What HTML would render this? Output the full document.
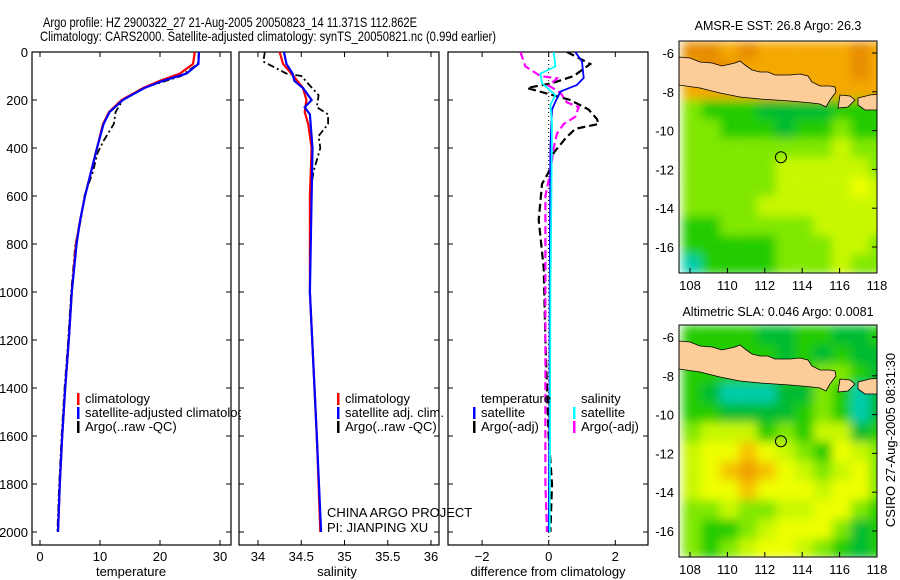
<!DOCTYPE html>
<html><head><meta charset="utf-8"><style>
body{margin:0;background:#fff}
svg{display:block;font-family:"Liberation Sans",sans-serif}
</style></head><body>
<svg id="fig" width="900" height="580" viewBox="0 0 900 580" xmlns="http://www.w3.org/2000/svg">
<rect width="900" height="580" fill="#fff"/>
<text x="43" y="27" font-size="14" textLength="374" lengthAdjust="spacingAndGlyphs">Argo profile: HZ 2900322_27 21-Aug-2005 20050823_14 11.371S 112.862E</text>
<text x="40" y="41" font-size="14" textLength="456" lengthAdjust="spacingAndGlyphs">Climatology: CARS2000. Satellite-adjusted climatology: synTS_20050821.nc (0.99d earlier)</text>
<g id="plots"></g>
<g id="maps"></g>
<text transform="translate(895,440) rotate(-90)" font-size="13" text-anchor="middle">CSIRO 27-Aug-2005 08:31:30</text>
</svg>
<script>
// ---- data ----
const depthTicks=[0,200,400,600,800,1000,1200,1400,1600,1800,2000];
const tempTicks=[0,10,20,30];
const salTicks=[34,34.5,35,35.5,36];
const salTickLabels=["34","34.5","35","35.5","36"];
const diffTicks=[-2,0,2];

const tClimDepth=[0,50,90,120,150,200,250,300,400,500,600,700,800,1000,1200,1400,1600,1800,2000];
const tClim=[25.8,25.5,23.3,20,17.2,13.6,11.5,10.5,9.5,8.5,7.5,6.7,6,5.3,4.8,4.2,3.7,3.3,3.0];
const tSat=[26.5,26.4,24.4,20.5,17.4,13.8,11.6,10.6,9.5,8.5,7.5,6.7,6.1,5.3,4.8,4.2,3.7,3.3,3.0];
const tArgoDepth=[0,50,100,150,200,250,300,370,420,500,600,700,800,1000,1200,1400,1600,1800,2000];
const tArgo=[26.5,26.3,23.5,17.2,13.8,12.6,12.3,10.6,9.6,8.8,7.4,6.8,5.9,5.2,4.7,4.1,3.6,3.2,2.9];

const sClimDepth=[0,50,100,150,200,250,300,400,600,1000,1600,2000];
const sClim=[34.25,34.29,34.41,34.52,34.56,34.54,34.58,34.62,34.6,34.6,34.68,34.72];
const sSatDepth=[0,50,90,120,150,200,230,260,400,1000,1600,2000];
const sSat=[34.3,34.33,34.4,34.42,34.52,34.62,34.54,34.6,34.63,34.6,34.68,34.73];
const sArgoDepth=[0,40,60,90,100,140,180,230,260,300,350,400,500,600,1000,1600,2000];
const sArgo=[34.08,34.06,34.17,34.33,34.5,34.6,34.7,34.68,34.81,34.81,34.7,34.72,34.64,34.6,34.6,34.68,34.73];

const dTSatDepth=[0,40,108,137,165,207,240,400,1000,1600,2000];
const dTSat=[0.8,1.0,1.05,0.85,0.35,0.2,0.1,0.05,0.03,0.02,0.0];
const dTArgoDepth=[0,50,100,130,150,200,240,280,300,320,360,420,500,550,700,900,1200,1400,1600,1800,2000];
const dTArgo=[0.55,1.25,0.75,0.1,-0.65,0.65,1.2,1.45,1.5,0.8,0.5,0.15,0,-0.2,-0.3,-0.15,-0.1,-0.05,0,0.1,0.05];
const dSSatDepth=[0,60,90,130,180,220,300,600,1000,2000];
const dSSat=[0.15,0.2,-0.25,-0.2,0.2,0.05,0.1,0.08,0.05,0.03];
const dSArgoDepth=[0,60,100,110,140,170,210,230,270,300,340,400,500,600,1000,1800,2000];
const dSArgo=[-0.85,-0.7,-0.25,0.25,0,0.35,0.55,0.9,0.8,0.45,0.25,0.15,0.05,-0.1,-0.1,-0.1,-0.05];

const lonTicks=[108,110,112,114,116,118];
const latTicks=[-6,-8,-10,-12,-14,-16];
const sstGrid=["OOoOoooooOo","oOOooooooOo","ooooooooooo","lgggGGGGggg","llgggGgglgg","llllllllyll","lllllyyyyyl","lllllyyyyYy","llllyyyyyyy","gglllllyyyy","ggggglllyyl","cgggglllyll"];
const slaGrid=["ggggGGggGGg","gggggGgGgGG","gggggggllgG","gGcccGGlgcG","ggGGGGglgcG","lyyyglgyyGg","yYYrYylgYyl","yYrRrYylyYl","yYYrYYYyYYl","llyllyyYYlg","lgglyYYYlGg","lglyYYylgGg"];
const argoLon=112.862, argoLat=-11.371;

// ---- helpers ----
const NS="http://www.w3.org/2000/svg";
function mk(tag,attrs,parent){const e=document.createElementNS(NS,tag);for(const k in attrs)e.setAttribute(k,attrs[k]);parent.appendChild(e);return e;}
const plots=document.getElementById('plots');
const yD=d=>52+d*0.24;
const top_=52,bot=545;
const panels=[
 {x0:32,x1:231,sx:v=>40+v*6,name:'temperature-panel'},
 {x0:239,x1:439,sx:v=>258+(v-34)*86.5,name:'salinity-panel'},
 {x0:448,x1:648,sx:v=>548.7+v*33.3,name:'difference-panel'}];

function line(p,depths,vals,color,dash,name,w){
  const g=panels[p];
  const pts=depths.map((d,i)=>g.sx(vals[i]).toFixed(1)+','+yD(d).toFixed(1)).join(' ');
  const e=mk('polyline',{points:pts,fill:'none',stroke:color,'stroke-width':w||2.2,'clip-path':'url(#clip'+p+')'},plots);
  if(dash)e.setAttribute('stroke-dasharray',dash);
  
  
}
const defs=mk('defs',{},plots);
const blurF=mk('filter',{id:'blur',x:'-5%',y:'-5%',width:'110%',height:'110%'},defs);
mk('feGaussianBlur',{stdDeviation:5,edgeMode:'duplicate'},blurF);
const lc=mk('clipPath',{id:'legclip'},defs);
mk('rect',{x:32,y:380,width:209,height:60},lc);
panels.forEach((g,i)=>{
  const cp=mk('clipPath',{id:'clip'+i},defs);
  mk('rect',{x:g.x0,y:top_,width:g.x1-g.x0,height:bot-top_},cp);
  const r=mk('rect',{x:g.x0,y:top_,width:g.x1-g.x0,height:bot-top_,fill:'none',stroke:'#000','stroke-width':1.2},plots);
  
  
  depthTicks.forEach(d=>{
    mk('line',{x1:g.x0,x2:g.x0+5,y1:yD(d),y2:yD(d),stroke:'#000'},plots);
    mk('line',{x1:g.x1,x2:g.x1-5,y1:yD(d),y2:yD(d),stroke:'#000'},plots);
  });
});
depthTicks.forEach(d=>{
  const t=mk('text',{x:28,y:yD(d)+5,'font-size':13,'text-anchor':'end'},plots);t.textContent=d;
  
  
});
function xticks(p,ticks,labels){
  const g=panels[p];
  ticks.forEach((v,i)=>{
    const x=g.sx(v);
    mk('line',{x1:x,x2:x,y1:top_,y2:top_+5,stroke:'#000'},plots);
    mk('line',{x1:x,x2:x,y1:bot,y2:bot-5,stroke:'#000'},plots);
    const t=mk('text',{x:x,y:561,'font-size':13,'text-anchor':'middle'},plots);
    t.textContent=labels?labels[i]:(v<0?'\u2212'+(-v):v);
    
    
  });
}
xticks(0,tempTicks);xticks(1,salTicks,salTickLabels);xticks(2,diffTicks);
[['temperature',131],['salinity',337],['difference from climatology',548]].forEach(([s,x])=>{
  const t=mk('text',{x:x,y:576,'font-size':13,'text-anchor':'middle'},plots);t.textContent=s;
  
  
});
const z=mk('line',{x1:548.7,x2:548.7,y1:top_,y2:bot,stroke:'#000','stroke-dasharray':'1,3'},plots);



line(0,tArgoDepth,tArgo,'#000','7,3,2,3','temp-argo-line',1.8);
line(0,tClimDepth,tClim,'#f00',null,'temp-climatology-line');
line(0,tClimDepth,tSat,'#00f',null,'temp-satellite-line');
line(1,sArgoDepth,sArgo,'#000','7,3,2,3','sal-argo-line',1.8);
line(1,sClimDepth,sClim,'#f00',null,'sal-climatology-line');
line(1,sSatDepth,sSat,'#00f',null,'sal-satellite-line');
line(2,dTArgoDepth,dTArgo,'#000','8,4','dtemp-argo-line',2.2);
line(2,dSArgoDepth,dSArgo,'#f0f','8,4','dsal-argo-line',2.2);
line(2,dTSatDepth,dTSat,'#00f',null,'dtemp-satellite-line',1.8);
line(2,dSSatDepth,dSSat,'#0ff',null,'dsal-satellite-line',1.8);

function legend(x,y,color,label,name,clip){
  mk('rect',{x:x,y:y-10,width:2.5,height:12,fill:color},plots);
  const t=mk('text',{x:x+8,y:y,'font-size':13},plots);t.textContent=label;
  if(clip)t.setAttribute('clip-path','url(#legclip)');
  
  
}
legend(77,403,'#f00','climatology','legend-climatology',1);
legend(77,417,'#00f','satellite-adjusted climatology','legend-satellite',1);
legend(77,431,'#000','Argo(..raw -QC)','legend-argo',1);
legend(337,403,'#f00','climatology','legend-sal-climatology');
legend(337,417,'#00f','satellite adj. clim.','legend-sal-satellite');
legend(337,431,'#000','Argo(..raw -QC)','legend-sal-argo');
let tt=mk('text',{x:481,y:403,'font-size':13},plots);tt.textContent='temperature';


tt=mk('text',{x:581,y:403,'font-size':13},plots);tt.textContent='salinity';


legend(473,417,'#00f','satellite','legend-dtemp-satellite');
legend(473,431,'#000','Argo(-adj)','legend-dtemp-argo');
legend(573,417,'#0ff','satellite','legend-dsal-satellite');
legend(573,431,'#f0f','Argo(-adj)','legend-dsal-argo');
tt=mk('text',{x:327,y:517,'font-size':13},plots);tt.textContent='CHINA ARGO PROJECT';


tt=mk('text',{x:327,y:532,'font-size':13},plots);tt.textContent='PI: JIANPING XU';



// ---- maps ----
const maps=document.getElementById('maps');
const pal={O:'#e88c00',o:'#f4a800',R:'#f0a000',r:'#f6c400',Y:'#eeff00',y:'#c8f800',l:'#80e800',g:'#22cc00',G:'#00bb33',c:'#00ccaa'};
const mx=lon=>690+(lon-108)*18.7;
function buildMap(y0,top,bottom,grid,title,name,titleY){
  const g=mk('g',{},maps);
  
  
  const my=lat=>y0+(-6-lat)*19.4;
  const cp=mk('clipPath',{id:'c'+name},defs);
  mk('rect',{x:679,y:top,width:198,height:bottom-top},cp);
  const inner=mk('g',{'clip-path':'url(#c'+name+')'},g);
  const field=mk('g',{filter:'url(#blur)'},inner);
  grid.forEach((row,r)=>{[...row].forEach((ch,c)=>{
    const lonA=107.6+c, latA=-5.4-r;
    mk('rect',{x:mx(lonA),y:my(latA),width:18.9,height:19.6,fill:pal[ch]},field);
  });});
  const off=y0-53;
  const java=[[679,57],[690,58],[700,62],[712,63],[722,66],[735,63],[740,61],[745,65],[752,70],[760,72],[768,72],[775,75],[790,75],[800,74],[808,76],[812,82],[820,86],[830,86],[835,87],[836,92],[830,100],[826,107],[820,104],[812,103],[790,101],[760,99],[740,97],[720,93],[700,88],[679,85]];
  const bali=[[840,95],[850,96],[855,100],[848,107],[838,108]];
  const sumb=[[858,98],[870,95],[880,94],[880,110],[865,110],[858,105]];
  [java,bali,sumb].forEach(poly=>{
    mk('polygon',{points:poly.map(p=>p[0]+','+(p[1]+off)).join(' '),fill:'#fccc99',stroke:'#000','stroke-width':0.8},inner);
  });
  const ex=mk('circle',{cx:mx(argoLon),cy:my(argoLat),r:5.5,fill:'none',stroke:'#000','stroke-width':1},g);
  
  
  mk('rect',{x:679,y:top,width:198,height:bottom-top,fill:'none',stroke:'#000'},g);
  latTicks.forEach(l=>{
    mk('line',{x1:877,x2:872,y1:my(l),y2:my(l),stroke:'#000'},g);
    const t=mk('text',{x:674,y:my(l)+5,'font-size':13,'text-anchor':'end'},g);t.textContent=l;
    
    
  });
  lonTicks.forEach(l=>{
    mk('line',{x1:mx(l),x2:mx(l),y1:bottom,y2:bottom-5,stroke:'#000'},g);
    const t=mk('text',{x:mx(l),y:bottom+17,'font-size':13,'text-anchor':'middle'},g);t.textContent=l;
    
    
  });
  const t=mk('text',{x:778,y:titleY,'font-size':12.5,'text-anchor':'middle'},g);t.textContent=title;
  
  
}
buildMap(53,41,273,sstGrid,'AMSR-E SST: 26.8 Argo: 26.3','sst-map',30);
buildMap(337,325,557,slaGrid,'Altimetric SLA: 0.046 Argo: 0.0081','sla-map',316);
</script>
</body></html>
